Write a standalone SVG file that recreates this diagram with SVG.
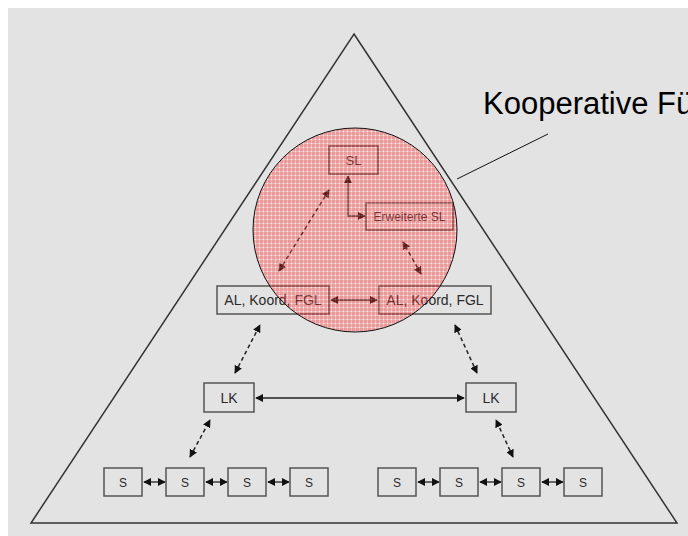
<svg xmlns="http://www.w3.org/2000/svg" width="688" height="536" viewBox="0 0 688 536">
  <style>
    .box { fill: none; stroke: #555; stroke-width: 1.5; }
    .lbl { font-family: "Liberation Sans", Arial, sans-serif; fill: #2a2a2a; text-anchor: middle; }
    .solid { fill: none; stroke: #222; stroke-width: 1.3; marker-start: url(#ah); marker-end: url(#ah); }
    .dash { fill: none; stroke: #222; stroke-width: 1.5; stroke-dasharray: 4 3; marker-start: url(#ah); marker-end: url(#ah); }
  </style>
  <defs>
    <marker id="ah" viewBox="0 0 10 10" refX="9" refY="5" markerWidth="8" markerHeight="8" markerUnits="userSpaceOnUse" orient="auto-start-reverse">
      <path d="M0,0 L10,5 L0,10 Z" fill="#111"/>
    </marker>
    <pattern id="mesh" width="4" height="4" patternUnits="userSpaceOnUse">
      <rect width="4" height="4" fill="#ff2020"/>
      <rect x="0" y="3" width="4" height="1" fill="#ff7a7a"/>
      <rect x="3" y="0" width="1" height="4" fill="#ff7a7a"/>
      <rect x="3" y="3" width="1" height="1" fill="#ffffff"/>
    </pattern>
  </defs>

  <!-- backdrop -->
  <rect x="8" y="8" width="680" height="528" fill="#e3e3e3"/>

  <!-- hierarchy pyramid -->
  <polygon points="354,34 677,523 31,523" fill="none" stroke="#333" stroke-width="1.5"/>

  <!-- connectors -->
  <g id="connectors">
    <path class="solid" d="M365,216 L348,216 L348,176"/>
    <path class="solid" d="M331,300 L377,300"/>
    <path class="solid" d="M256,398 L464,398"/>
    <path class="dash" d="M279,271 L329,190"/>
    <path class="dash" d="M421,274 L403,242"/>
    <path class="dash" d="M235,373 L260,325"/>
    <path class="dash" d="M477,373 L455,325"/>
    <path class="dash" d="M190,457 L210,420"/>
    <path class="dash" d="M513,457 L496,420"/>
    <path class="solid" d="M144,482 L165,482"/>
    <path class="solid" d="M206,482 L227,482"/>
    <path class="solid" d="M268,482 L289,482"/>
    <path class="solid" d="M418,482 L439,482"/>
    <path class="solid" d="M480,482 L501,482"/>
    <path class="solid" d="M542,482 L563,482"/>
  </g>

  <!-- nodes -->
  <g id="sl"><rect class="box" x="329" y="146" width="49" height="28"/><text class="lbl" x="353.5" y="165" font-size="13">SL</text></g>
  <g id="erweiterte-sl"><rect class="box" x="366" y="203" width="87" height="27"/><text class="lbl" x="409.5" y="221" font-size="12">Erweiterte SL</text></g>
  <g id="al-left"><rect class="box" x="217" y="286" width="112" height="28"/><text class="lbl" x="273" y="305" font-size="14">AL, Koord, FGL</text></g>
  <g id="al-right"><rect class="box" x="379" y="286" width="112" height="28"/><text class="lbl" x="435" y="305" font-size="14">AL, Koord, FGL</text></g>
  <g id="lk-left"><rect class="box" x="204" y="383" width="50" height="29"/><text class="lbl" x="229" y="402.5" font-size="14">LK</text></g>
  <g id="lk-right"><rect class="box" x="466" y="383" width="50" height="29"/><text class="lbl" x="491" y="402.5" font-size="14">LK</text></g>
  <g id="s1"><rect class="box" x="104" y="468" width="38" height="28"/><text class="lbl" x="123" y="486.5" font-size="12">S</text></g>
  <g id="s2"><rect class="box" x="166" y="468" width="38" height="28"/><text class="lbl" x="185" y="486.5" font-size="12">S</text></g>
  <g id="s3"><rect class="box" x="228" y="468" width="38" height="28"/><text class="lbl" x="247" y="486.5" font-size="12">S</text></g>
  <g id="s4"><rect class="box" x="290" y="468" width="38" height="28"/><text class="lbl" x="309" y="486.5" font-size="12">S</text></g>
  <g id="s5"><rect class="box" x="378" y="468" width="38" height="28"/><text class="lbl" x="397" y="486.5" font-size="12">S</text></g>
  <g id="s6"><rect class="box" x="440" y="468" width="38" height="28"/><text class="lbl" x="459" y="486.5" font-size="12">S</text></g>
  <g id="s7"><rect class="box" x="502" y="468" width="38" height="28"/><text class="lbl" x="521" y="486.5" font-size="12">S</text></g>
  <g id="s8"><rect class="box" x="564" y="468" width="38" height="28"/><text class="lbl" x="583" y="486.5" font-size="12">S</text></g>

  <!-- cooperative leadership zone: translucent mesh over the upper tiers -->
  <g id="kooperative-fuehrung">
    <circle cx="355" cy="230" r="102" fill="url(#mesh)" fill-opacity="0.38"/>
    <circle cx="355" cy="230" r="102" fill="none" stroke="#111" stroke-width="1"/>
    <line x1="457" y1="179" x2="548" y2="134" stroke="#111" stroke-width="1"/>
    <text x="483" y="114" font-family="'Liberation Sans', Arial, sans-serif" font-size="31" fill="#000">Kooperative Führung</text>
  </g>
</svg>
